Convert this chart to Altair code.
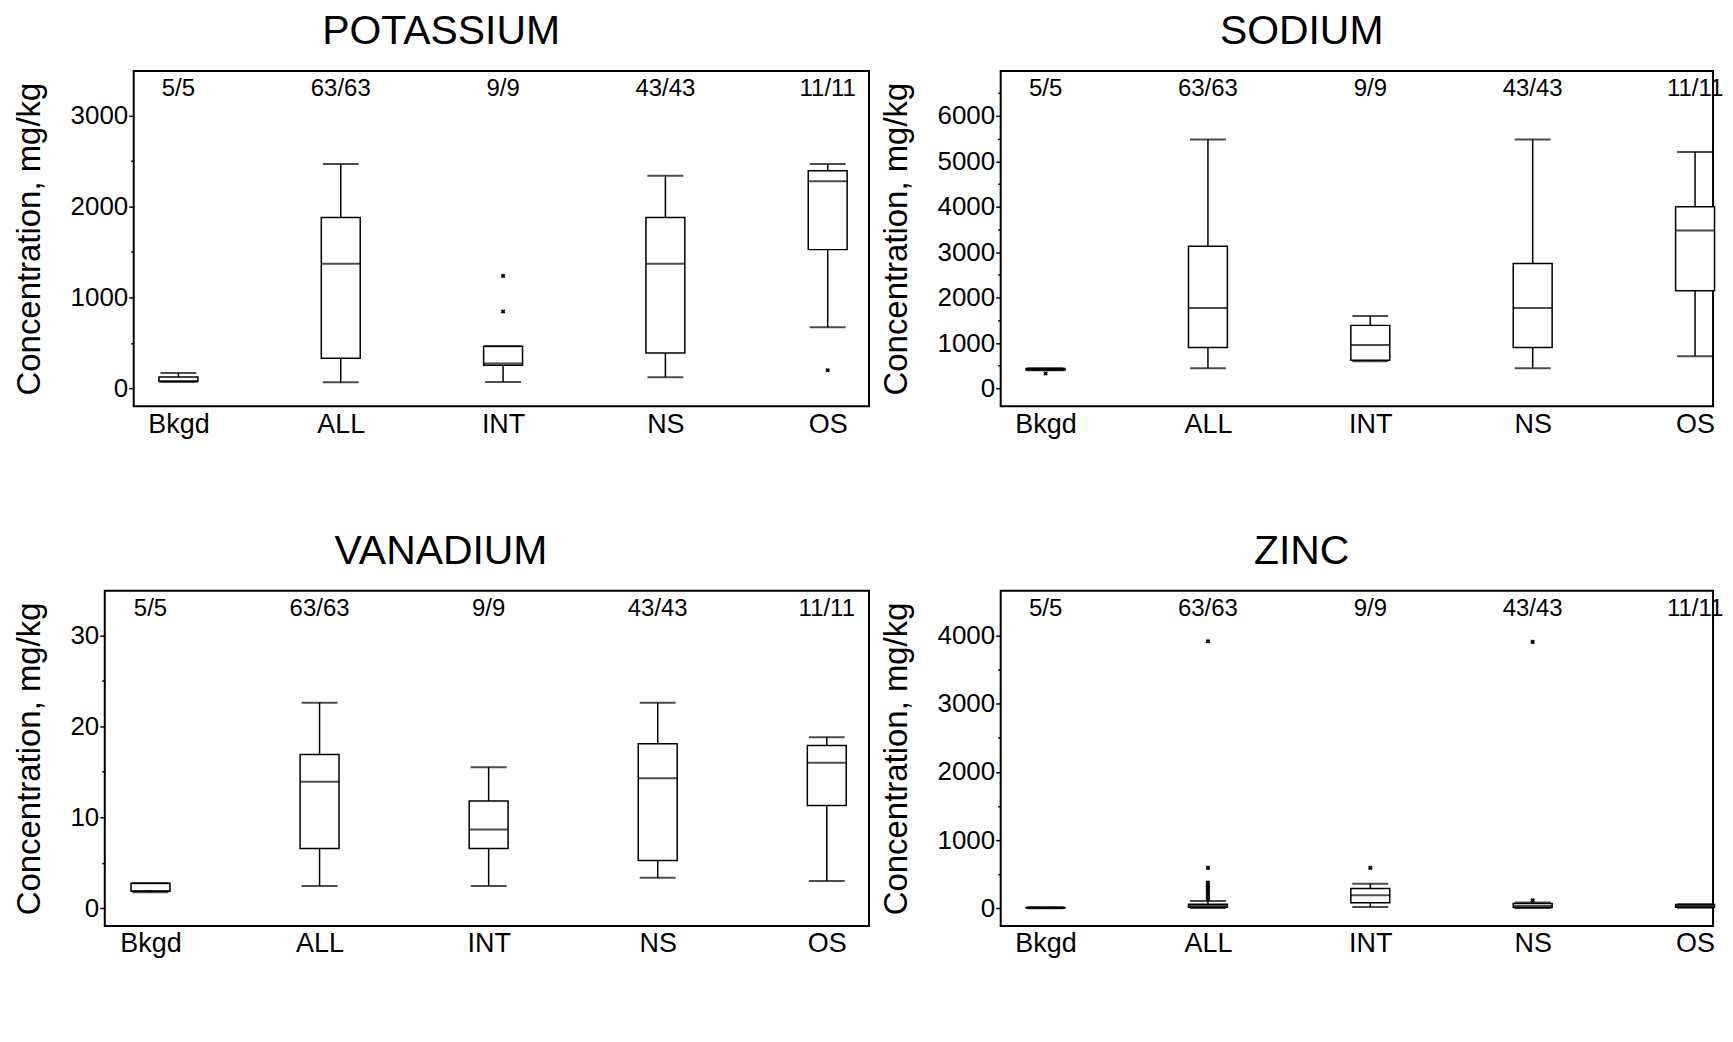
import altair as alt
import pandas as pd

FONT = "Liberation Sans"

groups = ["Bkgd", "ALL", "INT", "NS", "OS"]
counts = ["5/5", "63/63", "9/9", "43/43", "11/11"]

# POTASSIUM (mg/kg)
k_min = [73, 69, 72, 124, 672]
k_q1 = [76, 332, 255, 390, 1526]
k_med = [78, 1372, 275, 1372, 2277]
k_q3 = [125, 1880, 463, 1880, 2394]
k_max = [170, 2467, 463, 2339, 2467]
k_out_group = ["INT", "INT", "OS"]
k_out_value = [1237, 846, 200]

# SODIUM (mg/kg)
na_min = [400, 446, 600, 446, 710]
na_q1 = [405, 900, 621, 900, 2151]
na_med = [420, 1770, 957, 1770, 3475]
na_q3 = [440, 3131, 1389, 2750, 4001]
na_max = [445, 5479, 1594, 5479, 5208]
na_out_group = ["Bkgd"]
na_out_value = [329]

# VANADIUM (mg/kg)
v_min = [1.75, 2.45, 2.45, 3.36, 2.99]
v_q1 = [1.86, 6.57, 6.57, 5.26, 11.3]
v_med = [1.9, 13.9, 8.65, 14.3, 16.0]
v_q3 = [2.74, 16.9, 11.8, 18.07, 17.9]
v_max = [2.74, 22.6, 15.5, 22.6, 18.8]
v_out_group = []
v_out_value = []

# ZINC (mg/kg)
zn_min = [3, 5, 20, 5, 10]
zn_q1 = [5, 15, 83, 12, 15]
zn_med = [8, 35, 194, 35, 35]
zn_q3 = [12, 60, 292, 70, 55]
zn_max = [15, 107, 360, 85, 60]
zn_out_group = ["ALL"] * 12 + ["INT"] + ["NS", "NS"]
zn_out_value = [3917, 594, 380, 350, 330, 300, 280, 250, 220, 190, 165, 140,
                594, 3907, 117]


def make_panel(title, mins, q1s, meds, q3s, maxs, out_g, out_v, domain,
               tick_vals, major, width, pad, align):
    df = pd.DataFrame({"group": groups, "lo": mins, "q1": q1s, "med": meds,
                       "q3": q3s, "hi": maxs, "n": counts})
    xenc = alt.X("group:N", sort=groups,
                 scale=alt.Scale(type="point", padding=pad, align=align),
                 axis=alt.Axis(title=None, labelAngle=0, ticks=False, domain=False,
                               labelFontSize=27, labelPadding=5, labelColor="black",
                               labelFont=FONT, grid=False))
    ysc = alt.Scale(domain=domain, nice=False, zero=False)
    yax = alt.Axis(title="Concentration, mg/kg", titleFontSize=33,
                   titleFontWeight="normal", titleFont=FONT, titleColor="black",
                   titlePadding=24, labelFontSize=26, labelFont=FONT,
                   labelColor="black", labelPadding=1, values=tick_vals,
                   labelExpr=f"datum.value % {major} === 0 ? datum.label : ''",
                   format="d",
                   tickSize=alt.condition(f"datum.value % {major} === 0",
                                          alt.value(5), alt.value(3)),
                   tickColor="black", tickWidth=1.5, domain=False, grid=False)

    def Y(f):
        return alt.Y(f"{f}:Q", scale=ysc, axis=yax)

    base = alt.Chart(df)
    whisk = base.mark_rule(color="black", strokeWidth=1.5).encode(
        x=xenc, y=Y("lo"), y2="hi")
    box = base.mark_bar(size=39, fill="white", stroke="black",
                        strokeWidth=1.5).encode(x=xenc, y=Y("q1"), y2="q3")
    med = base.mark_tick(size=39, thickness=2, color="black").encode(
        x=xenc, y=Y("med"))
    caplo = base.mark_tick(size=36, thickness=2, color="black").encode(
        x=xenc, y=Y("lo"))
    caphi = base.mark_tick(size=36, thickness=2, color="black").encode(
        x=xenc, y=Y("hi"))
    layers = [whisk, box, med, caplo, caphi]
    if out_v:
        odf = pd.DataFrame({"group": out_g, "value": out_v})
        pts = alt.Chart(odf).mark_point(shape="cross", angle=45, filled=True,
                                        size=22, color="black", opacity=1).encode(
            x=xenc, y=Y("value"))
        layers.append(pts)
    txt = base.mark_text(fontSize=24, baseline="alphabetic", color="black",
                         font=FONT).encode(x=xenc, text="n:N", y=alt.value(25))
    layers.append(txt)
    return alt.layer(*layers).properties(
        width=width, height=336,
        view=alt.ViewBackground(stroke="black", strokeWidth=2, fill="white"),
        title=alt.TitleParams(text=title, fontSize=41, fontWeight="normal",
                              font=FONT, anchor="middle", frame="bounds",
                              offset=-14, baseline="alphabetic", color="black"))


def spacer():
    # empty zero-content cell so that each row is laid out from its own left edge
    return alt.Chart(pd.DataFrame({"a": [0]})).mark_point(
        opacity=0, size=1).encode(x=alt.value(0), y=alt.value(0)).properties(
        width=1, height=1,
        view=alt.ViewBackground(strokeOpacity=0, strokeWidth=0, fillOpacity=0))


k = make_panel("POTASSIUM", k_min, k_q1, k_med, k_q3, k_max, k_out_group,
               k_out_value, [-195, 3490], list(range(0, 3001, 500)), 1000,
               737, 0.265, 0.52)
na = make_panel("SODIUM", na_min, na_q1, na_med, na_q3, na_max, na_out_group,
                na_out_value, [-390, 6990], list(range(0, 6501, 500)), 1000,
                714, 0.1935, 0.714)
v = make_panel("VANADIUM", v_min, v_q1, v_med, v_q3, v_max, v_out_group,
               v_out_value, [-1.95, 34.9], list(range(0, 31, 5)), 10,
               766, 0.26, 0.52)
zn = make_panel("ZINC", zn_min, zn_q1, zn_med, zn_q3, zn_max, zn_out_group,
                zn_out_value, [-258, 4657], list(range(0, 4001, 500)), 1000,
                714, 0.1935, 0.714)

chart = alt.vconcat(
    alt.hconcat(spacer(), k, na, spacing=9),
    alt.hconcat(spacer(), v, zn, spacing=9),
    spacing=92,
).properties(
    padding={"left": -7, "top": 1, "right": 0, "bottom": 0}
).configure_view(
    stroke="black", strokeWidth=2
).configure(font=FONT, background="white")

chart.save("out.html", embed_options={"renderer": "svg", "actions": False})
